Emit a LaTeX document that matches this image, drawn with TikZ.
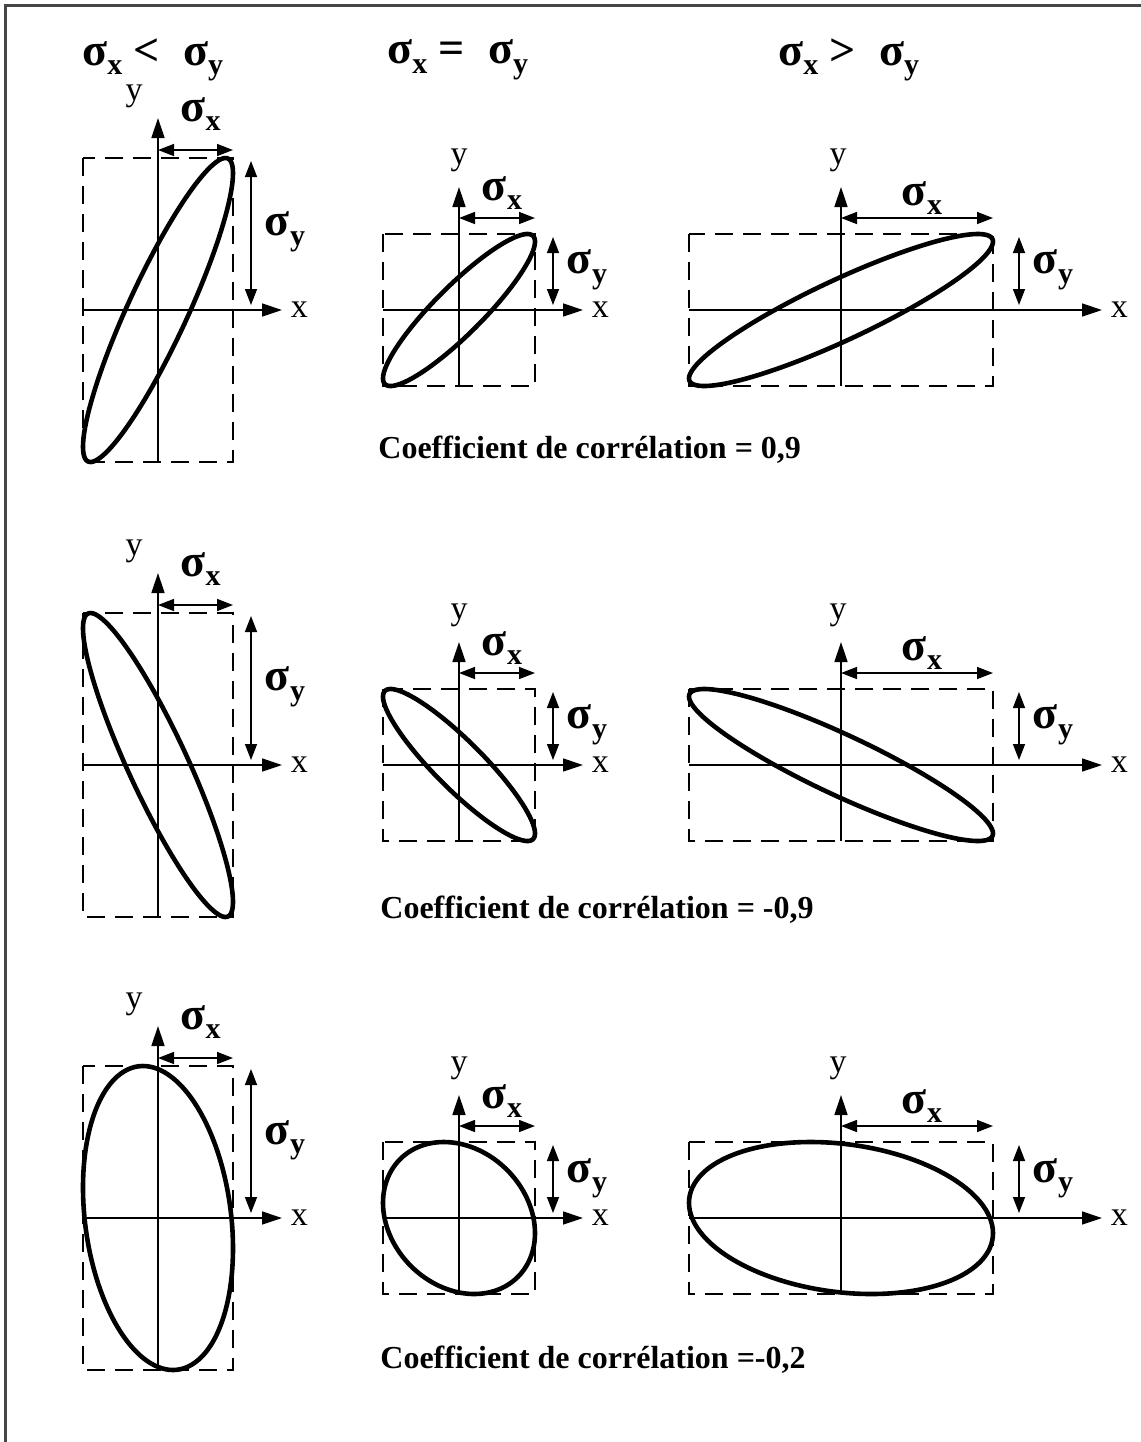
\documentclass[tikz,border=0pt]{standalone}
\usepackage{fontspec}
\setmainfont{Liberation Serif}
\usetikzlibrary{arrows.meta}
\newcommand{\sigsub}[1]{σ\raisebox{-0.45ex}{\fontsize{15}{15}\selectfont #1}}

\begin{document}
\begin{tikzpicture}[x=0.5pt, y=-0.5pt,
	frame/.style={line width=1.5pt, gray!55!black},
	bbox/.style={line width=0.7pt, dash pattern=on 9pt off 5pt},
	axis/.style={line width=0.75pt, -{Triangle[length=10pt,width=6.5pt]}},
	spread/.style={line width=0.75pt, {Triangle[length=8pt,width=6pt]}-{Triangle[length=8pt,width=6pt]}},
	contour/.style={line width=2.3pt, line join=round},
	axlabel/.style={font=\fontsize{17}{17}\selectfont, inner sep=1pt},
	siglabel/.style={font=\fontsize{23}{23}\selectfont\bfseries, inner sep=1pt},
	caption/.style={anchor=west, font=\fontsize{16}{18}\selectfont\bfseries, inner sep=0pt}]
	\useasboundingbox (0,0) rectangle (1141,1442);
	
	% Frame
	\draw[frame] (5,1442) -- (5,5) -- (1141,5);
	
	% Column headers
	\node[siglabel, anchor=west] (hdlt) at (80,60) {\sigsub{x} <\ \ \sigsub{y}};
	\node[siglabel, anchor=west] (hdeq) at (385,60) {\sigsub{x} =\ \ \sigsub{y}};
	\node[siglabel, anchor=west] (hdgt) at (776,60) {\sigsub{x} >\ \ \sigsub{y}};
	
	% Panels: one row per correlation, one column per spread ratio
	\foreach \cy/\rr/\rw in {310/0.9/1, 765/-0.9/2, 1218/-0.2/3} {
		\foreach \cx/\sx/\sy/\ay/\tip/\xt/\gx/\yx/\yy/\sxo/\pn in
			{158/75/152/8/40/49/18/-24/-22/36/a,
			 459/76/76/16/47/48/18/0/-27/25/b,
			 841/152/76/16/47/109/26/-3/-27/20/c} {
			% dashed box and axes
			\draw[bbox] (\cx-\sx,\cy-\sy) rectangle (\cx+\sx,\cy+\sy);
			\draw[axis] (\cx,\cy+\sy) -- (\cx,\cy-\sy-\tip);
			\draw[axis] (\cx-\sx,\cy) -- (\cx+\sx+\xt,\cy)
				node[axlabel, right=3pt] (x-\rw\pn) {x};
			\node[axlabel] (y-\rw\pn) at (\cx+\yx,\cy-\sy-\tip+\yy) {y};
			
			% spreads
			\draw[spread] (\cx,\cy-\sy-\ay) -- (\cx+\sx,\cy-\sy-\ay);
			\node[siglabel] (sx-\rw\pn) at (\cx+\sx/2+5,\cy-\sy-\ay-\sxo) {\sigsub{x}};
			\draw[spread] (\cx+\sx+\gx,\cy-\sy+3) -- (\cx+\sx+\gx,\cy-5);
			\node[siglabel] (sy-\rw\pn) at (\cx+\sx+\gx+34,\cy-\sy/2-2) {\sigsub{y}};
			
			% contour
			\draw[contour] plot[domain=0:357, samples=120, smooth cycle]
				({\cx+\sx*cos(\x)}, {\cy-\sy*((\rr)*cos(\x)+sqrt(1-(\rr)*(\rr))*sin(\x))});
		}
	}
	
	% Captions
	\node[caption] (cap1) at (378,450) {Coefficient de corrélation = 0,9};
	\node[caption] (cap2) at (380,910) {Coefficient de corrélation = -0,9};
	\node[caption] (cap3) at (380,1360) {Coefficient de corrélation =-0,2};
\end{tikzpicture}
\end{document}
